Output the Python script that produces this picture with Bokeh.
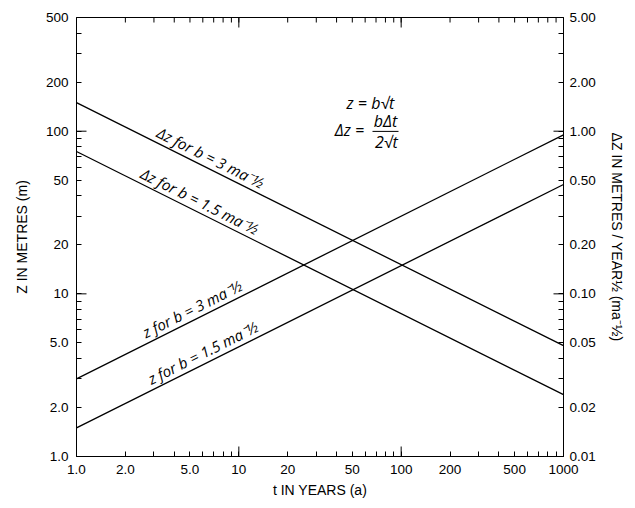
import math
from bokeh.plotting import figure
from bokeh.models import LogAxis, Range1d, FixedTicker, LogScale, Label
from bokeh.embed import file_html
from bokeh.resources import INLINE
from bokeh.core.properties import value

# ---- data ----
t_years = [1.0, 1000.0]
z_b3 = [3.0, 95.0]
z_b15 = [1.5, 47.0]
dz_b3 = [1.5, 0.048]
dz_b15 = [0.75, 0.024]

x_ticks = [1, 2, 5, 10, 20, 50, 100, 200, 500, 1000]
x_tick_labels = ["1.0", "2.0", "5.0", "10", "20", "50", "100", "200", "500", "1000"]
x_minor = [3, 4, 6, 7, 8, 9, 30, 40, 60, 70, 80, 90, 300, 400, 600, 700, 800, 900]
y_ticks = [1, 2, 5, 10, 20, 50, 100, 200, 500]
y_tick_labels = ["1.0", "2.0", "5.0", "10", "20", "50", "100", "200", "500"]
y_minor = [3, 4, 6, 7, 8, 9, 30, 40, 60, 70, 80, 90, 300, 400]
dz_ticks = [0.01, 0.02, 0.05, 0.1, 0.2, 0.5, 1, 2, 5]
dz_tick_labels = ["0.01", "0.02", "0.05", "0.10", "0.20", "0.50", "1.00", "2.00", "5.00"]
dz_minor = [0.03, 0.04, 0.06, 0.07, 0.08, 0.09, 0.3, 0.4, 0.6, 0.7, 0.8, 0.9, 3, 4]
decade_x = [10, 100]
decade_y = [10, 100]

TICK_FONT = "Liberation Sans"
LBL_FONT = "Open Sans"

p = figure(width=627, height=500, x_axis_type="log", y_axis_type="log",
           x_range=Range1d(1, 1000), y_range=Range1d(1, 500),
           output_backend="svg", toolbar_location=None,
           min_border_left=76, min_border_right=64, min_border_top=17, min_border_bottom=44)
p.extra_y_ranges = {"dz": Range1d(0.01, 5)}
p.extra_y_scales = {"dz": LogScale()}
p.xgrid.visible = False
p.ygrid.visible = False
p.outline_line_color = "black"
p.outline_line_width = 1
p.background_fill_color = "white"
p.border_fill_color = "white"

def style(ax, ticks, minor, labels):
    ax.ticker = FixedTicker(ticks=ticks, minor_ticks=minor)
    ax.major_label_overrides = dict(zip(ticks, labels))
    ax.axis_line_color = "black"
    ax.major_tick_line_color = "black"
    ax.minor_tick_line_color = "black"
    ax.major_tick_in = 5
    ax.major_tick_out = 0
    ax.minor_tick_in = 5
    ax.minor_tick_out = 0
    ax.major_label_text_font = TICK_FONT
    ax.major_label_text_font_size = "13.5px"
    ax.major_label_text_color = "black"
    ax.axis_label_text_font = TICK_FONT
    ax.axis_label_text_font_size = "14px"
    ax.axis_label_text_font_style = "normal"
    ax.axis_label_text_color = "black"

xa = p.xaxis[0]
style(xa, x_ticks, x_minor, x_tick_labels)
xa.axis_label = "t IN YEARS (a)"
xa.major_label_standoff = 8
xa.axis_label_standoff = 5

ya = p.yaxis[0]
style(ya, y_ticks, y_minor, y_tick_labels)
ya.axis_label = "Z IN METRES (m)"
ya.major_label_standoff = 8
ya.axis_label_standoff = 13

ra = LogAxis(y_range_name="dz")
style(ra, dz_ticks, dz_minor, dz_tick_labels)
ra.axis_label = "ΔZ IN METRES / YEAR½ (ma⁻½)"
ra.major_label_standoff = 6
ra.axis_label_standoff = 10
p.add_layout(ra, "right")

# top border ticks (no labels)
top_short = x_ticks[1:-1] + x_minor
p.ray(x=top_short, y=[y_ticks[-1]] * len(top_short), length=5, length_units="screen",
      angle=-math.pi / 2, color="black", line_width=1)

# longer decade ticks on all four sides
p.ray(x=decade_x, y=[y_ticks[0]] * len(decade_x), length=10, length_units="screen",
      angle=math.pi / 2, color="black", line_width=1)
p.ray(x=decade_x, y=[y_ticks[-1]] * len(decade_x), length=10, length_units="screen",
      angle=-math.pi / 2, color="black", line_width=1)
p.ray(x=[x_ticks[0]] * len(decade_y), y=decade_y, length=10, length_units="screen",
      angle=0, color="black", line_width=1)
p.ray(x=[x_ticks[-1]] * len(decade_y), y=decade_y, length=10, length_units="screen",
      angle=math.pi, color="black", line_width=1)

# lines
p.line(t_years, z_b3, line_color="black", line_width=1.3)
p.line(t_years, z_b15, line_color="black", line_width=1.3)
p.line(t_years, dz_b3, line_color="black", line_width=1.3, y_range_name="dz")
p.line(t_years, dz_b15, line_color="black", line_width=1.3, y_range_name="dz")

def on_line(xs, ys, x):
    f = math.log(x / xs[0]) / math.log(xs[1] / xs[0])
    return ys[0] * (ys[1] / ys[0]) ** f

ang = math.atan(0.5)
line_labels = [
    (5.5, z_b3, "z for b = 3 ma⁻½", ang, "default"),
    (6.4, z_b15, "z for b = 1.5 ma⁻½", ang, "default"),
    (6.3, dz_b3, "Δz for b = 3 ma⁻½", -ang, "dz"),
    (5.41, dz_b15, "Δz for b = 1.5 ma⁻½", -ang, "dz"),
]
for lx, ys, txt, a, rng in line_labels:
    ly = on_line(t_years, ys, lx)
    p.text(x=[lx], y=[ly], text=[txt], angle=a, text_align="center",
           text_baseline="bottom", y_offset=-1,
           text_font=value(LBL_FONT), text_font_style="italic",
           text_font_size="15px", text_color="black", y_range_name=rng)

# equations
eq_kw = dict(text_font=LBL_FONT, text_font_style="italic", text_font_size="16px",
             text_color="black", text_align="center", text_baseline="middle")
p.add_layout(Label(x=64.7, y=150, text="z = b√t", **eq_kw))
p.add_layout(Label(x=48, y=101, text="Δz =", **eq_kw))
p.add_layout(Label(x=80, y=116, text="bΔt", **eq_kw))
p.add_layout(Label(x=81, y=85.6, text="2√t", **eq_kw))
p.segment(x0=[66.6], y0=[99.7], x1=[96.3], y1=[99.7], line_color="black", line_width=1)

open("out.html", "w").write(file_html(p, INLINE))
